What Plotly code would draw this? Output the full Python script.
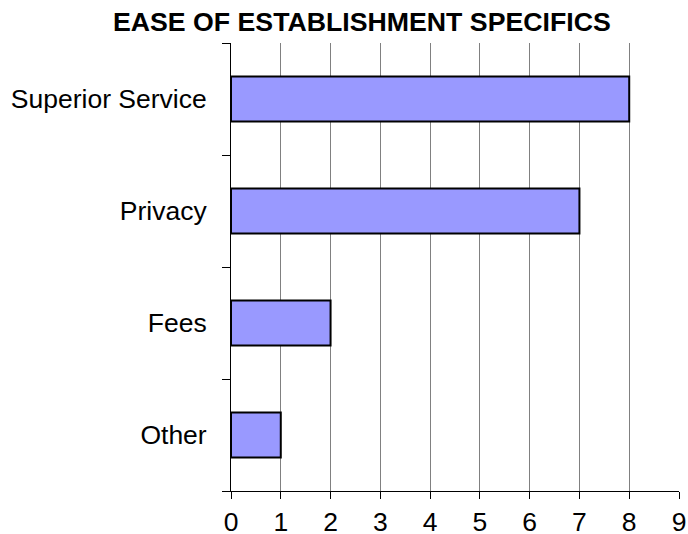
import plotly.graph_objects as go

categories = ["Superior Service", "Privacy", "Fees", "Other"]
values = [8, 7, 2, 1]
x_ticks = list(range(0, 10))
title_text = "EASE OF ESTABLISHMENT SPECIFICS"

FONT = "Liberation Sans, Arial, sans-serif"

W, H = 688, 534
L, R, T, B = 231, 9, 43, 43
plot_w = W - L - R
plot_h = H - T - B

fig = go.Figure()
fig.add_trace(go.Bar(
    y=categories,
    x=values,
    orientation="h",
    marker=dict(color="#9999FF", line=dict(color="black", width=2)),
    width=0.4,
))

fig.update_layout(
    width=W, height=H,
    margin=dict(l=L, r=R, t=T, b=B, autoexpand=False),
    paper_bgcolor="white", plot_bgcolor="white",
    font=dict(family=FONT, size=26.5, color="black"),
    showlegend=False,
    annotations=[dict(
        text="<b>" + title_text + "</b>",
        xref="paper", yref="paper",
        x=(362 - L) / plot_w, y=1 + (T - 22) / plot_h, yanchor="middle", xanchor="center",
        showarrow=False,
        font=dict(family=FONT, size=26.7, color="black"),
    )],
)
fig.update_xaxes(
    range=[0, 9], tickvals=x_ticks, ticktext=[str(v) for v in x_ticks],
    showgrid=True, gridcolor="#808080", gridwidth=1,
    showline=True, linecolor="black", linewidth=1,
    ticks="outside", ticklen=7, tickcolor="black",
    zeroline=False, mirror=False, automargin=False,
)
fig.update_yaxes(
    categoryorder="array", categoryarray=categories[::-1],
    autorange=False, range=[-0.5, 3.5],
    tickson="boundaries", ticks="outside", ticklen=8, tickcolor="black",
    ticklabelstandoff=18,
    showline=True, linecolor="black", linewidth=1,
    showgrid=False, zeroline=False, automargin=False,
)

fig.write_html(
    "out.html",
    config={"displayModeBar": False},
    post_script="document.body.style.margin='0';document.body.style.overflow='hidden';",
)
